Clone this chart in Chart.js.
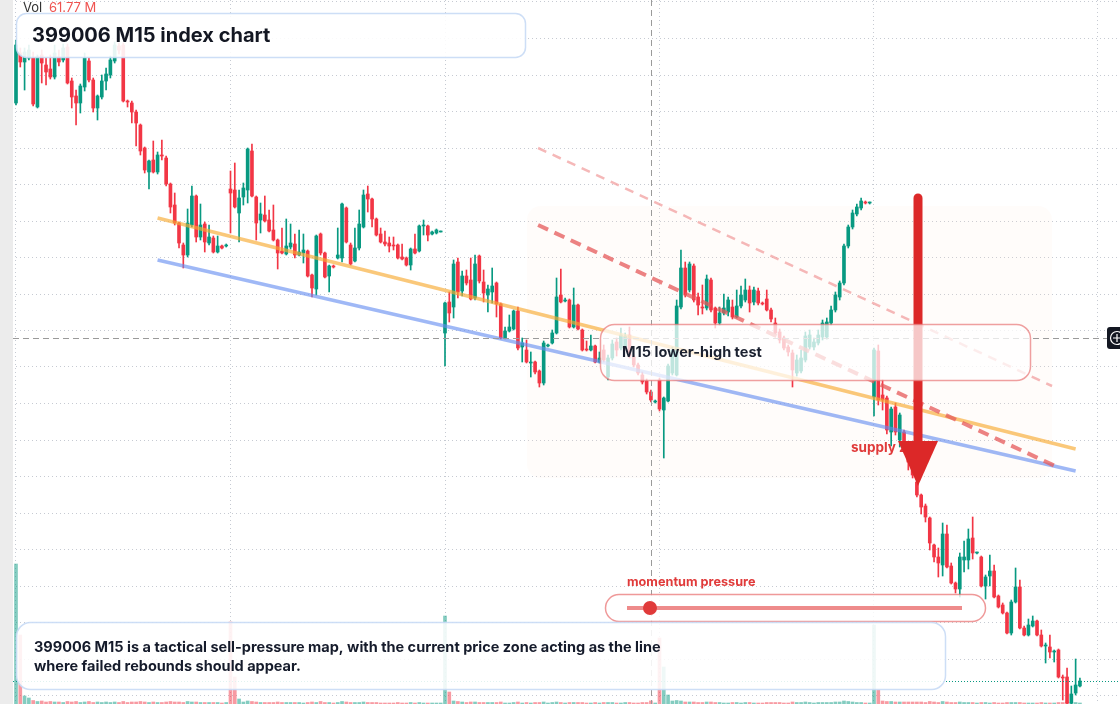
<!DOCTYPE html>
<html>
<head>
<meta charset="utf-8">
<title>399006 M15 index chart</title>
<script src="https://cdn.jsdelivr.net/npm/chart.js@4.4.1/dist/chart.umd.min.js"></script>
<style>
  html, body { margin: 0; padding: 0; background: #ffffff; }
  canvas { display: block; }
</style>
</head>
<body>
<canvas id="js--chart" width="1120" height="704"></canvas>
<script>
// M15 bars (index points)
const opens = [
  2897,2947,2938,2942,2942,2893,2945,2935,2931,2923,
  2943,2940,2953,2919,2904,2897,2913,2939,2920,2892,
  2903,2919,2925,2939,2954,2955,2899,2897,2888,2875,
  2852,2828,2840,2828,2845,2842,2816,2795,2777,2755,
  2745,2775,2804,2763,2776,2757,2762,2748,2754,2754,
  2811,2810,2787,2803,2810,2849,2803,2780,2785,2780,
  2770,2760,2749,2746,2753,2756,2745,2747,2749,2725,
  2711,2766,2747,2724,2734,2742,2742,2792,2755,2739,
  2752,2773,2806,2801,2781,2766,2758,2757,2755,2755,
  2743,2742,2735,2751,2749,2774,2774,2766,2767,2768,
  2667,2698,2693,2738,2709,2724,2720,2702,2744,2718,
  2705,2708,2717,2696,2662,2669,2671,2689,2653,2650,
  2637,2638,2629,2617,2654,2657,2667,2705,2699,2700,
  2673,2695,2670,2651,2650,2654,2638,2650,2623,2642,
  2658,2652,2652,2665,2643,2635,2625,2619,2608,2598,
  2620,2590,2599,2627,2625,2693,2732,2710,2734,2703,
  2693,2692,2720,2692,2677,2687,2688,2693,2683,2694,
  2700,2710,2698,2709,2697,2701,2690,2677,2668,2662,
  2653,2647,2627,2629,2640,2653,2653,2657,2663,2663,
  2677,2690,2703,2717,2754,2773,2786,2792,2798,2797,
  2603,2649,2605,2602,2568,2593,2560,2568,2555,2540,
  2518,2505,2494,2482,2455,2443,2435,2466,2434,2417,
  2411,2440,2440,2462,2447,2443,2414,2424,2429,2404,
  2395,2387,2367,2398,2413,2372,2365,2374,2379,2365,
  2354,2353,2348,2350,2323,2323,2297,2307,2314
];
const highs = [
  2960,2952,2952,2955,2948,2945,2950,2942,2945,2955,
  2950,2956,2956,2922,2910,2916,2947,2942,2922,2905,
  2925,2932,2944,2958,2957,2957,2900,2899,2890,2876,
  2853,2840,2859,2848,2860,2844,2817,2807,2778,2757,
  2791,2814,2805,2796,2778,2775,2764,2764,2755,2756,
  2829,2837,2810,2817,2852,2856,2804,2797,2804,2790,
  2795,2761,2772,2781,2776,2766,2770,2766,2750,2726,
  2765,2767,2748,2735,2735,2772,2797,2793,2757,2772,
  2790,2810,2814,2802,2782,2772,2769,2763,2763,2756,
  2756,2743,2752,2766,2775,2780,2775,2769,2771,2769,
  2698,2708,2740,2742,2729,2730,2742,2745,2745,2730,
  2715,2732,2718,2697,2673,2685,2690,2693,2662,2660,
  2648,2639,2630,2659,2656,2670,2722,2731,2702,2701,
  2712,2696,2671,2659,2665,2655,2648,2655,2645,2660,
  2662,2672,2667,2673,2645,2637,2628,2621,2610,2600,
  2622,2603,2636,2653,2700,2750,2738,2738,2736,2707,
  2715,2725,2722,2693,2693,2706,2703,2700,2710,2714,
  2721,2714,2713,2712,2698,2710,2692,2682,2671,2664,
  2655,2650,2645,2650,2668,2670,2662,2670,2680,2682,
  2694,2708,2719,2756,2775,2790,2796,2802,2799,2798,
  2652,2655,2620,2604,2593,2597,2587,2570,2557,2542,
  2522,2506,2496,2483,2456,2452,2477,2475,2437,2418,
  2447,2459,2471,2483,2448,2444,2425,2445,2435,2405,
  2397,2388,2400,2432,2420,2374,2381,2384,2380,2370,
  2357,2365,2350,2351,2325,2332,2314,2341,2322
];
const lows = [
  2895,2933,2910,2940,2894,2892,2917,2915,2921,2921,
  2934,2938,2916,2892,2875,2887,2909,2918,2888,2880,
  2901,2910,2922,2937,2946,2898,2893,2877,2854,2845,
  2827,2811,2827,2826,2840,2814,2787,2775,2752,2732,
  2743,2773,2758,2760,2748,2755,2747,2747,2751,2753,
  2767,2792,2758,2795,2797,2803,2760,2767,2778,2768,
  2759,2731,2746,2745,2751,2742,2744,2737,2723,2703,
  2705,2745,2722,2708,2732,2741,2738,2757,2735,2738,
  2750,2772,2788,2773,2764,2757,2754,2748,2750,2741,
  2740,2734,2730,2746,2748,2765,2759,2765,2766,2768,
  2634,2678,2682,2702,2704,2715,2700,2700,2717,2698,
  2688,2697,2683,2661,2661,2668,2670,2650,2638,2637,
  2623,2626,2613,2615,2653,2656,2666,2697,2698,2672,
  2672,2670,2649,2649,2649,2637,2637,2638,2620,2640,
  2644,2650,2651,2642,2633,2625,2616,2606,2598,2597,
  2589,2542,2598,2625,2624,2691,2703,2708,2698,2685,
  2686,2690,2688,2672,2675,2685,2684,2681,2682,2692,
  2698,2688,2695,2695,2695,2689,2678,2666,2657,2650,
  2644,2613,2624,2627,2638,2651,2650,2655,2660,2661,
  2675,2688,2700,2715,2752,2771,2784,2790,2796,2796,
  2584,2595,2590,2566,2554,2565,2553,2552,2530,2522,
  2503,2486,2478,2450,2438,2423,2424,2432,2416,2407,
  2403,2428,2431,2441,2446,2413,2401,2414,2402,2392,
  2386,2366,2365,2397,2371,2364,2364,2373,2364,2353,
  2337,2342,2338,2322,2300,2296,2294,2305,2313
];
const closes = [
  2955,2938,2948,2950,2896,2943,2937,2928,2923,2947,
  2938,2952,2917,2903,2897,2914,2942,2920,2892,2904,
  2919,2926,2940,2955,2950,2899,2898,2888,2877,2849,
  2830,2839,2828,2845,2844,2816,2793,2777,2757,2745,
  2777,2804,2763,2775,2758,2763,2748,2754,2752,2755,
  2807,2793,2802,2812,2851,2804,2777,2786,2779,2769,
  2760,2747,2747,2754,2757,2745,2748,2750,2724,2712,
  2764,2747,2723,2734,2733,2745,2796,2758,2736,2752,
  2776,2805,2801,2781,2765,2758,2756,2754,2754,2742,
  2741,2735,2751,2747,2774,2775,2765,2768,2770,2769,
  2697,2687,2736,2708,2724,2717,2701,2736,2719,2707,
  2711,2714,2696,2662,2669,2673,2689,2652,2657,2638,
  2638,2628,2617,2657,2655,2667,2703,2698,2700,2673,
  2695,2671,2650,2650,2654,2638,2642,2640,2642,2656,
  2650,2665,2664,2644,2635,2627,2618,2608,2600,2599,
  2591,2602,2634,2650,2694,2732,2705,2736,2700,2695,
  2692,2721,2690,2677,2687,2692,2700,2683,2694,2705,
  2710,2697,2710,2697,2696,2690,2681,2667,2660,2652,
  2648,2630,2640,2642,2664,2665,2658,2665,2677,2678,
  2690,2705,2717,2754,2773,2787,2793,2799,2797,2798,
  2650,2600,2600,2570,2591,2568,2585,2555,2538,2525,
  2505,2493,2483,2457,2443,2437,2466,2433,2417,2411,
  2443,2443,2461,2447,2448,2414,2423,2429,2403,2393,
  2387,2367,2398,2413,2372,2365,2375,2379,2365,2354,
  2355,2348,2349,2323,2322,2297,2306,2315,2319
];
// volume in millions
const volumes = [
  2800,1380,160,120,70,50,60,40,50,40,
  40,30,50,40,50,30,40,50,30,40,
  30,40,30,40,30,50,30,40,40,50,
  40,30,40,30,30,40,50,40,40,30,
  50,40,40,30,30,30,30,30,20,30,
  1640,540,100,40,60,50,40,30,30,30,
  30,40,30,30,30,30,30,20,30,40,
  30,50,30,30,20,30,50,40,30,30,
  30,40,30,30,30,20,20,20,20,30,
  20,20,30,20,30,20,20,20,20,20,
  1760,240,60,50,40,30,40,40,30,30,
  30,30,30,40,20,20,30,40,20,30,
  20,30,30,40,20,30,40,30,20,30,
  30,30,30,20,20,30,20,30,30,30,
  20,20,30,30,20,20,30,30,61.77,20,
  1320,740,180,60,70,60,40,40,40,30,
  30,40,40,30,30,20,20,30,30,20,
  30,30,20,20,20,30,30,30,30,20,
  20,40,30,30,40,30,20,30,30,30,
  30,40,40,60,50,40,30,30,20,20,
  1580,280,60,50,50,40,40,40,40,40,
  40,40,30,50,40,30,50,40,30,30,
  40,30,30,30,20,30,30,20,30,20,
  20,30,30,30,30,20,20,20,20,30,
  20,20,20,30,30,40,30,30,20
];

// time grid (bar index) and price grid
const timeGrid = [0, 50, 100, 150, 200, 252];
const priceGrid = [2998, 2961.5, 2925, 2888.5, 2852, 2815.5, 2779, 2742.5, 2706, 2669.5,
  2633, 2596.5, 2560, 2523.5, 2487, 2450.5, 2414, 2377.5, 2341, 2304.5];

// crosshair position
const crossBar = 148;
const crossPrice = 2662;

// drawn trend lines: [start bar, end bar] and [start price, end price]
const channelBars = [33, 247];
const channelTop = [2782, 2551];
const channelBottom = [2740, 2529];
const pressureBars = [121.7, 242.2];
const pressurePrices = [2775, 2534];
const outerBars = [121.7, 241.5];
const outerPrices = [2852, 2614];

const UP = "#089981";
const DOWN = "#f23645";
const FONT = "Inter, 'Liberation Sans', sans-serif";

const barColor = opens.map((o, i) => (closes[i] >= o ? UP : DOWN));
const volColor = opens.map((o, i) =>
  closes[i] >= o ? "rgba(8,153,129,0.5)" : "rgba(242,54,69,0.5)"
);

function linePoints(xs, ys) {
  return [{ x: xs[0], y: ys[0] }, { x: xs[1], y: ys[1] }];
}

function box(ctx, x, y, w, h, r, fill, stroke) {
  ctx.beginPath();
  ctx.roundRect(x, y, w, h, r);
  ctx.fillStyle = fill;
  ctx.fill();
  ctx.lineWidth = 1.5;
  ctx.strokeStyle = stroke;
  ctx.stroke();
}

const overlay = {
  id: "overlay",
  beforeDatasetsDraw(chart) {
    const ctx = chart.ctx;
    ctx.save();
    // faint zone behind the lower-high test
    ctx.beginPath();
    ctx.roundRect(527, 206, 525, 272, 14);
    ctx.fillStyle = "rgba(255,232,214,0.13)";
    ctx.fill();
    // left strip
    ctx.fillStyle = "#ececec";
    ctx.fillRect(0, 0, 13, 704);
    ctx.restore();
  },
  afterDatasetsDraw(chart) {
    const ctx = chart.ctx;
    const x = chart.scales.x;
    const y = chart.scales.y;
    const last = closes.length - 1;
    ctx.save();

    // last price line
    const py = Math.round(y.getPixelForValue(closes[last])) + 0.5;
    ctx.setLineDash([1, 2]);
    ctx.lineWidth = 1;
    ctx.strokeStyle = UP;
    ctx.beginPath();
    ctx.moveTo(13, py);
    ctx.lineTo(1120, py);
    ctx.stroke();

    // crosshair
    const cx = Math.round(x.getPixelForValue(crossBar)) + 0.5;
    const cy = Math.round(y.getPixelForValue(crossPrice)) + 0.5;
    ctx.setLineDash([6, 4]);
    ctx.strokeStyle = "#9a9a9a";
    ctx.beginPath();
    ctx.moveTo(cx, 0);
    ctx.lineTo(cx, 704);
    ctx.moveTo(13, cy);
    ctx.lineTo(1107, cy);
    ctx.stroke();
    ctx.setLineDash([]);

    // supply zone label
    ctx.font = "700 13.5px " + FONT;
    ctx.fillStyle = "#e03a3a";
    ctx.textBaseline = "middle";
    ctx.fillText("supply zone", 851, 448);

    // big arrow
    ctx.strokeStyle = "#dc2828";
    ctx.fillStyle = "#dc2828";
    ctx.lineWidth = 9;
    ctx.lineCap = "round";
    ctx.beginPath();
    ctx.moveTo(918, 198);
    ctx.lineTo(918, 446);
    ctx.stroke();
    ctx.lineCap = "butt";
    ctx.beginPath();
    ctx.moveTo(898, 441);
    ctx.lineTo(938, 441);
    ctx.lineTo(918, 486);
    ctx.closePath();
    ctx.fill();

    // lower-high test box
    box(ctx, 600.5, 324.5, 430, 56, 14, "rgba(255,255,255,0.74)", "rgba(232,120,120,0.7)");
    ctx.font = "700 14.5px " + FONT;
    ctx.fillStyle = "#1b2130";
    ctx.fillText("M15 lower-high test", 622, 353);

    // momentum pressure gauge
    ctx.font = "700 12.7px " + FONT;
    ctx.fillStyle = "#e03a3a";
    ctx.fillText("momentum pressure", 627, 582);
    box(ctx, 605.5, 594.5, 380, 27, 13.5, "rgba(255,255,255,0.82)", "rgba(232,110,110,0.7)");
    ctx.strokeStyle = "rgba(232,100,100,0.75)";
    ctx.lineWidth = 4;
    ctx.beginPath();
    ctx.moveTo(627, 608);
    ctx.lineTo(962, 608);
    ctx.stroke();
    ctx.fillStyle = "#e03a3a";
    ctx.beginPath();
    ctx.arc(650, 608, 7, 0, Math.PI * 2);
    ctx.fill();

    // summary box
    box(ctx, 16.5, 622.5, 929, 67, 14, "rgba(255,255,255,0.88)", "rgba(200,218,245,0.9)");
    ctx.font = "700 14.5px " + FONT;
    ctx.fillStyle = "#151b2b";
    ctx.fillText("399006 M15 is a tactical sell-pressure map, with the current price zone acting as the line", 34, 648);
    ctx.fillText("where failed rebounds should appear.", 34, 667);

    // title box
    box(ctx, 16.5, 13.5, 509, 44, 10, "rgba(255,255,255,0.9)", "rgba(200,218,245,0.9)");
    ctx.font = "700 20px " + FONT;
    ctx.fillStyle = "#131722";
    ctx.fillText("399006 M15 index chart", 32, 36);

    // volume legend
    ctx.font = "400 13px " + FONT;
    ctx.fillStyle = "#333333";
    ctx.fillText("Vol", 23, 8);
    ctx.fillStyle = "#ef5350";
    ctx.fillText(volumes[crossBar].toFixed(2) + " M", 49, 8);

    // crosshair label on the price scale
    ctx.fillStyle = "#131722";
    ctx.beginPath();
    ctx.roundRect(1107, 327, 24, 22, 3);
    ctx.fill();
    ctx.strokeStyle = "#ffffff";
    ctx.lineWidth = 1.2;
    ctx.beginPath();
    ctx.arc(1117, 338, 6.5, 0, Math.PI * 2);
    ctx.moveTo(1113, 338);
    ctx.lineTo(1121, 338);
    ctx.moveTo(1117, 334);
    ctx.lineTo(1117, 342);
    ctx.stroke();

    ctx.restore();
  }
};

const gridStyle = {
  color: "rgba(188,193,202,0.85)",
  lineWidth: 1,
  drawTicks: false,
  offset: false
};

const data = {
  datasets: [
    {
      type: "line",
      data: linePoints(outerBars, outerPrices),
      borderColor: "rgba(242,160,160,0.75)",
      borderWidth: 2.5,
      borderDash: [9, 7],
      pointRadius: 0,
      order: 1
    },
    {
      type: "line",
      data: linePoints(pressureBars, pressurePrices),
      borderColor: "rgba(230,90,90,0.75)",
      borderWidth: 4,
      borderDash: [11, 7],
      pointRadius: 0,
      order: 1
    },
    {
      type: "line",
      data: linePoints(channelBars, channelTop),
      borderColor: "rgba(247,170,50,0.65)",
      borderWidth: 3.5,
      pointRadius: 0,
      order: 2
    },
    {
      type: "line",
      data: linePoints(channelBars, channelBottom),
      borderColor: "rgba(100,140,240,0.62)",
      borderWidth: 3.5,
      pointRadius: 0,
      order: 2
    },
    {
      type: "bar",
      data: opens.map((o, i) => ({ x: i, y: [o, closes[i]] })),
      backgroundColor: barColor,
      barThickness: 3,
      minBarLength: 1,
      grouped: false,
      order: 4
    },
    {
      type: "bar",
      data: opens.map((o, i) => ({ x: i, y: [lows[i], highs[i]] })),
      backgroundColor: barColor,
      barThickness: 1,
      grouped: false,
      order: 5
    },
    {
      type: "bar",
      data: volumes.map((v, i) => ({ x: i, y: v })),
      yAxisID: "yv",
      backgroundColor: volColor,
      barThickness: 3,
      grouped: false,
      order: 9
    }
  ]
};

const config = {
  type: "bar",
  data: data,
  options: {
    responsive: false,
    devicePixelRatio: 1,
    animation: false,
    events: [],
    layout: { padding: 0 },
    plugins: {
      legend: { display: false },
      tooltip: { enabled: false }
    },
    scales: {
      x: {
        type: "linear",
        min: -16 / 4.29,
        max: -16 / 4.29 + 1120 / 4.29,
        offset: false,
        grid: gridStyle,
        border: { display: false, dash: [1, 3] },
        ticks: { display: false },
        afterBuildTicks: (scale) => {
          scale.ticks = timeGrid.map((v) => ({ value: v }));
        }
      },
      y: {
        type: "linear",
        min: 2296,
        max: 3000,
        grid: gridStyle,
        border: { display: false, dash: [1, 3] },
        ticks: { display: false },
        afterBuildTicks: (scale) => {
          scale.ticks = priceGrid.map((v) => ({ value: v }));
        }
      },
      yv: {
        type: "linear",
        display: false,
        min: 0,
        max: 14080
      }
    }
  },
  plugins: [overlay]
};

new Chart(document.getElementById("js--chart"), config);
</script>
</body>
</html>
